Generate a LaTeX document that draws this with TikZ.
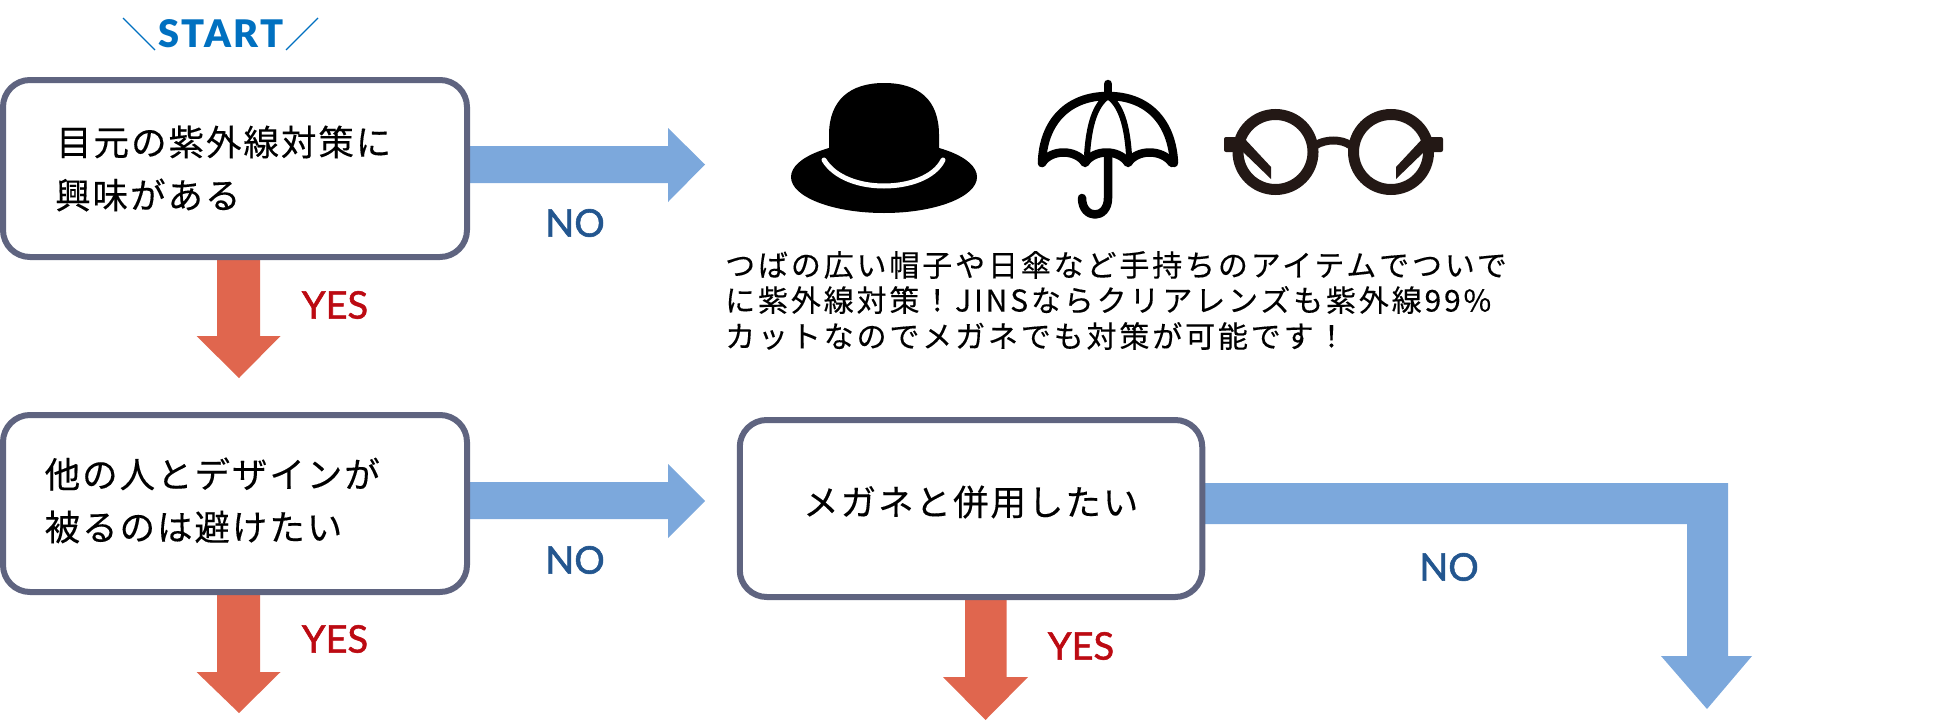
\documentclass[tikz,border=0pt]{standalone}
\usepackage{fontspec}
\setmainfont{Lato}
\newfontfamily\jpbox[LetterSpace=5.5,FakeBold=0.25]{Noto Sans CJK JP}
\newfontfamily\jptxt[LetterSpace=9.5,FakeBold=0.25]{Noto Sans CJK JP}
\newfontfamily\lab[FakeBold=1.5]{Lato}
\newfontfamily\labst[LetterSpace=6]{Lato Black}
\definecolor{boxline}{HTML}{5F6480}
\definecolor{noblue}{HTML}{7CA8DC}
\definecolor{yesred}{HTML}{E0664E}
\definecolor{notext}{HTML}{23568F}
\definecolor{yestext}{HTML}{BC0A12}
\definecolor{starttext}{HTML}{0070C0}
\definecolor{glassc}{HTML}{231815}
\pgfdeclarelayer{back}
\pgfsetlayers{back,main}
\tikzset{
  x=1pt,y=-1pt,
  qbox/.style={draw=boxline,line width=6pt,fill=white,rounded corners=27pt,minimum width=464pt,minimum height=177pt,inner sep=0pt,outer sep=0pt},
  qtext/.style={anchor=west,inner sep=0pt,font=\fontsize{35.5}{35.5}\selectfont\jpbox,text=black},
  desc/.style={anchor=west,inner sep=0pt,font=\fontsize{30}{30}\selectfont\jptxt,text=black},
  nolabel/.style={inner sep=0pt,font=\fontsize{38}{38}\selectfont\lab,text=notext},
  yeslabel/.style={inner sep=0pt,font=\fontsize{38}{38}\selectfont\lab,text=yestext},
  noarrow/.style={fill=noblue,draw=none},
  yesarrow/.style={fill=yesred,draw=none},
}
\begin{document}
\begin{tikzpicture}
\useasboundingbox (0,0) rectangle (1950,720);
% boxes
\node[qbox] (b1) at (235,168.5) {};
\node[qbox] (b2) at (235,503.5) {};
\node[qbox,minimum width=462.5pt] (b3) at (971,508.5) {};
\begin{pgfonlayer}{back}
% right arrows
\fill[noarrow] (b1.center |- 0,146) -- (668,146) -- (668,128) -- (705,164.5) -- (668,202) -- (668,183) -- (b1.center |- 0,183) -- cycle;
\fill[noarrow] (b2.center |- 0,482) -- (668,482) -- (668,464) -- (705,501) -- (668,538) -- (668,519) -- (b2.center |- 0,519) -- cycle;
\fill[noarrow] (b3.center |- 0,483) -- (1728,483) -- (1728,656) -- (1752,656) -- (1707,709) -- (1661,656) -- (1687,656) -- (1687,524) -- (b3.center |- 0,524) -- cycle;
% down arrows
\fill[yesarrow] (217,168) -- (260,168) -- (260,336) -- (280.5,336) -- (239,378) -- (196.5,336) -- (217,336) -- cycle;
\fill[yesarrow] (217,503) -- (260,503) -- (260,672) -- (280.5,672) -- (239,713) -- (196.5,672) -- (217,672) -- cycle;
\fill[yesarrow] (965,508) -- (1006.5,508) -- (1006.5,677) -- (1028,677) -- (985.5,720) -- (943,677) -- (965,677) -- cycle;
\end{pgfonlayer}
% START
\node[inner sep=0pt,font=\fontsize{38}{38}\selectfont\labst,text=starttext] (st) at (221,34) {START};
\coordinate (sa) at (123,18); \coordinate (sb) at (155,50);
\coordinate (sc) at (318,18); \coordinate (sd) at (286,50);
\draw[starttext,line width=1.2pt] (sa) -- (sb) (sc) -- (sd);
% texts
\node[qtext] (t1) at (56,142) {目元の紫外線対策に};
\node[qtext] (t2) at (55,195) {興味がある};
\node[qtext] (t3) at (44.5,474) {他の人とデザインが};
\node[qtext] (t4) at (44.5,527) {被るのは避けたい};
\node[qtext] (t5) at (803,502) {メガネと併用したい};
\node[desc] (d1) at (725,265) {つばの広い帽子や日傘など手持ちのアイテムでついで};
\node[desc] (d2) at (725,300) {に紫外線対策！JINSならクリアレンズも紫外線99\%};
\node[desc] (d3) at (725,336) {カットなのでメガネでも対策が可能です！};
% labels
\node[nolabel] (n1) at (575,223) {NO};
\node[nolabel] (n2) at (575,560) {NO};
\node[nolabel] (n3) at (1449,567) {NO};
\node[yeslabel] (y1) at (335,305) {YES};
\node[yeslabel] (y2) at (335,639) {YES};
\node[yeslabel] (y3) at (1081,646) {YES};
% hat
\fill[black] (829,150) -- (829,135) .. controls (829,100) and (850,83) .. (884,83) .. controls (919,83) and (939,100) .. (939,135) -- (939,150) -- cycle;
\fill[black] (884,177) ellipse [x radius=93,y radius=36];
\draw[white,line width=5pt,line cap=round] (824,160) .. controls (835,178) and (860,186) .. (884,186) .. controls (908,186) and (934,178) .. (943,160);
% umbrella
\begin{scope}[line width=8.5pt,line cap=round,line join=round,black]
\draw (1108,84) -- (1108,93);
\draw (1042,163) .. controls (1043,122) and (1068,96) .. (1108,96) .. controls (1148,96) and (1172,122) .. (1174,163);
\draw (1042,163) .. controls (1051,149) and (1076,149) .. (1085,163) .. controls (1094,149) and (1119,149) .. (1128,163) .. controls (1137,149) and (1162,149) .. (1172,163);
\draw[line width=6pt] (1087,155) .. controls (1089,125) and (1095,105) .. (1108,96) .. controls (1121,105) and (1127,125) .. (1129,155);
\draw (1108,155) -- (1108,198) .. controls (1108,220) and (1082,220) .. (1082,198);
\end{scope}
% glasses
\begin{scope}[glassc]
\draw[line width=11pt] (1275.5,152) circle [radius=37.5];
\draw[line width=11pt] (1391,152) circle [radius=37.5];
\draw[line width=8pt] (1316,145) .. controls (1326,139) and (1341,139) .. (1350,145);
\fill[rounded corners=2pt] (1224,137) rectangle (1243,152);
\fill[rounded corners=2pt] (1424,137) rectangle (1443,152);
\fill (1243,137) -- (1271,167) -- (1271,179) -- (1241,150) -- cycle;
\fill (1424,137) -- (1396,167) -- (1396,179) -- (1426,150) -- cycle;
\end{scope}
\end{tikzpicture}
\end{document}
